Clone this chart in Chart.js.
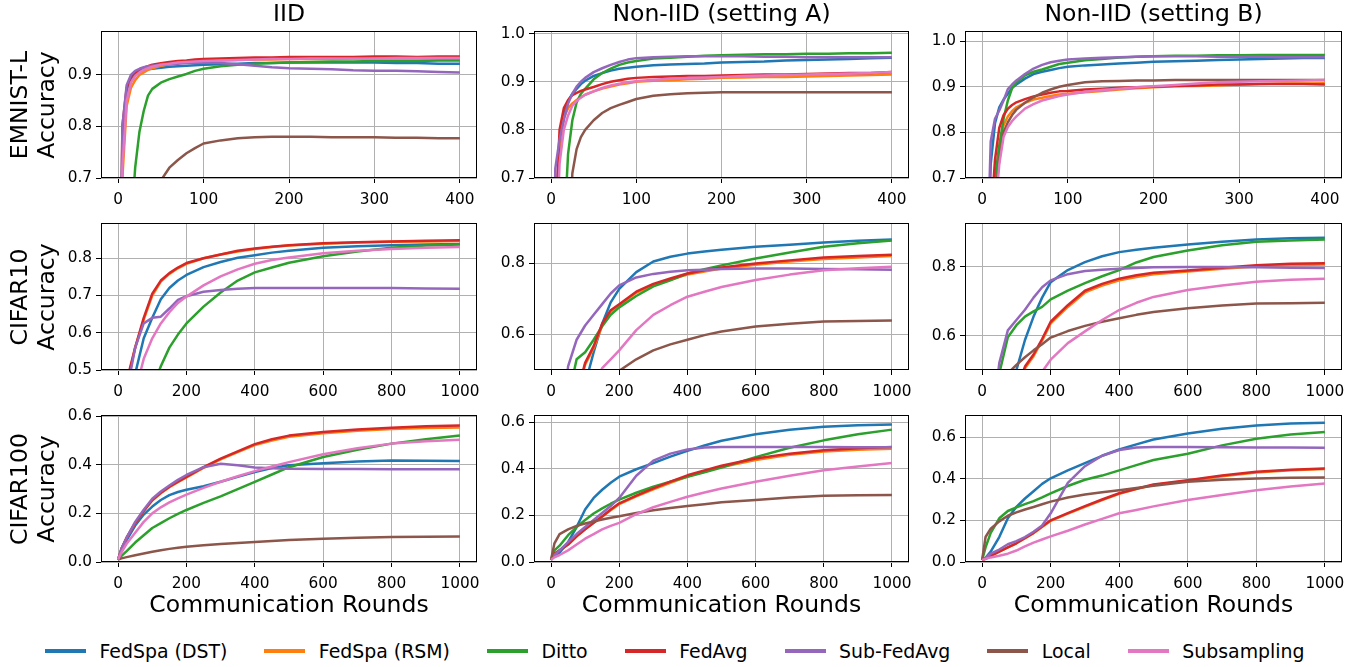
<!DOCTYPE html>
<html>
<head>
<meta charset="utf-8">
<script src="https://cdn.jsdelivr.net/npm/chart.js@4/dist/chart.umd.min.js"></script>
<style>
  html, body { margin: 0; padding: 0; background: #fff; }
  #fig { position: relative; width: 1364px; height: 667px; overflow: hidden; background: #fff;
         font-family: 'DejaVu Sans', sans-serif; color: #000; }
  .panel { position: absolute; left: 0; top: 0; }
  .panel canvas { position: absolute; display: block; }
  .coltitle, .xtitle { position: absolute; white-space: nowrap; transform: translate(-50%, -50%);
                       font-size: 23.5px; line-height: 1; }
  .rowlabel { position: absolute; white-space: nowrap; text-align: center; font-size: 23.5px;
              line-height: 27px; transform: translate(-50%, -50%) rotate(-90deg); }
  #legend { position: absolute; left: 45px; top: 651px; transform: translateY(-50%);
            display: flex; align-items: center; font-size: 18.9px; white-space: nowrap; }
  .lg-item { display: flex; align-items: center; margin-right: 37px; }
  .lg-item:last-child { margin-right: 0; }
  .lg-line { width: 41px; height: 3.5px; margin-right: 13.5px; }
</style>
</head>
<body>
<div id="fig"></div>
<script>
// ---------------- categories / labels ----------------
const seriesNames = ['FedSpa (DST)', 'FedSpa (RSM)', 'Ditto', 'FedAvg', 'Sub-FedAvg', 'Local', 'Subsampling'];
const seriesColors = ['#1f77b4', '#ff7f0e', '#2ca02c', '#d62728', '#9467bd', '#8c564b', '#e377c2'];
const columnTitles = ['IID', 'Non-IID (setting A)', 'Non-IID (setting B)'];
const rowDatasets = ['EMNIST-L', 'CIFAR10', 'CIFAR100'];
const rowMetric = 'Accuracy';
const xAxisTitle = 'Communication Rounds';

// ---------------- x values (communication rounds) ----------------
const roundsEmnist = [0,5,10,15,20,25,30,35,40,50,60,70,80,90,100,120,140,160,180,200,225,250,275,300,325,350,375,400];
const roundsCifar = [0,10,25,50,75,100,125,150,175,200,250,300,350,400,450,500,600,700,800,900,1000];

// ---------------- tick labels ----------------
const xTicksEmnist = [0, 100, 200, 300, 400];
const xTicksCifar = [0, 200, 400, 600, 800, 1000];
const yTicksEmnistIid = [0.7, 0.8, 0.9];
const yTicksEmnistNonIid = [0.7, 0.8, 0.9, 1.0];
const yTicksCifar10Iid = [0.5, 0.6, 0.7, 0.8];
const yTicksCifar10NonIid = [0.6, 0.8];
const yTicksCifar100 = [0.0, 0.2, 0.4, 0.6];

// ---------------- EMNIST-L, IID ----------------
const emnistIidDst = [0.04,0.78,0.87,0.893,0.902,0.906,0.909,0.911,0.912,0.914,0.916,0.917,0.918,0.919,0.92,0.921,0.922,0.923,0.923,0.924,0.924,0.924,0.924,0.924,0.923,0.923,0.922,0.922];
const emnistIidRsm = [0.04,0.7,0.84,0.875,0.89,0.9,0.905,0.91,0.913,0.918,0.921,0.923,0.925,0.926,0.927,0.928,0.929,0.93,0.93,0.931,0.931,0.931,0.932,0.932,0.932,0.932,0.932,0.932];
const emnistIidDitto = [0.04,0.2,0.4,0.6,0.72,0.79,0.83,0.86,0.873,0.885,0.892,0.897,0.902,0.908,0.912,0.917,0.92,0.922,0.923,0.924,0.925,0.926,0.926,0.927,0.927,0.927,0.928,0.928];
const emnistIidFedAvg = [0.04,0.8,0.875,0.897,0.905,0.91,0.914,0.917,0.92,0.923,0.925,0.927,0.928,0.93,0.931,0.932,0.933,0.934,0.934,0.935,0.935,0.935,0.935,0.936,0.936,0.935,0.936,0.936];
const emnistIidSubFedAvg = [0.04,0.8,0.88,0.9,0.908,0.912,0.915,0.917,0.918,0.92,0.921,0.922,0.923,0.923,0.924,0.923,0.921,0.918,0.915,0.913,0.912,0.911,0.909,0.908,0.908,0.907,0.906,0.905];
const emnistIidLocal = [0.04,0.1,0.2,0.3,0.4,0.48,0.55,0.6,0.64,0.695,0.72,0.735,0.748,0.758,0.767,0.773,0.777,0.779,0.78,0.78,0.78,0.779,0.779,0.779,0.778,0.778,0.777,0.777];
const emnistIidSubsampling = [0.04,0.72,0.85,0.885,0.898,0.905,0.91,0.913,0.916,0.92,0.922,0.924,0.925,0.926,0.927,0.928,0.929,0.93,0.931,0.931,0.932,0.932,0.932,0.932,0.933,0.933,0.933,0.933];

// ---------------- EMNIST-L, Non-IID A ----------------
const emnistADst = [0.05,0.6,0.76,0.83,0.86,0.875,0.885,0.895,0.902,0.912,0.918,0.923,0.927,0.929,0.931,0.934,0.936,0.937,0.938,0.94,0.941,0.942,0.944,0.945,0.946,0.947,0.949,0.95];
const emnistARsm = [0.05,0.55,0.77,0.825,0.845,0.855,0.862,0.868,0.873,0.88,0.886,0.89,0.894,0.897,0.9,0.902,0.903,0.905,0.906,0.908,0.909,0.91,0.91,0.911,0.912,0.913,0.914,0.915];
const emnistADitto = [0.05,0.2,0.4,0.58,0.75,0.82,0.857,0.875,0.885,0.905,0.918,0.927,0.935,0.94,0.943,0.948,0.95,0.952,0.954,0.955,0.956,0.957,0.957,0.958,0.958,0.959,0.959,0.96];
const emnistAFedAvg = [0.05,0.6,0.8,0.845,0.862,0.872,0.877,0.881,0.884,0.889,0.895,0.9,0.903,0.906,0.908,0.91,0.911,0.912,0.912,0.913,0.914,0.915,0.915,0.916,0.917,0.918,0.918,0.92];
const emnistASubFedAvg = [0.05,0.72,0.78,0.82,0.855,0.875,0.89,0.9,0.908,0.92,0.928,0.935,0.941,0.946,0.949,0.951,0.952,0.953,0.953,0.953,0.953,0.952,0.952,0.951,0.951,0.951,0.951,0.951];
const emnistALocal = [0.05,0.15,0.25,0.38,0.52,0.71,0.76,0.785,0.8,0.82,0.835,0.845,0.852,0.858,0.864,0.871,0.874,0.876,0.877,0.878,0.878,0.878,0.878,0.878,0.878,0.878,0.878,0.878];
const emnistASubsampling = [0.05,0.5,0.73,0.8,0.83,0.85,0.86,0.867,0.873,0.88,0.887,0.892,0.896,0.899,0.901,0.904,0.906,0.908,0.909,0.91,0.912,0.913,0.914,0.915,0.916,0.917,0.918,0.92];

// ---------------- EMNIST-L, Non-IID B ----------------
const emnistBDst = [0.05,0.4,0.73,0.82,0.855,0.872,0.885,0.898,0.905,0.918,0.928,0.933,0.937,0.941,0.944,0.947,0.949,0.951,0.953,0.955,0.956,0.957,0.959,0.96,0.961,0.962,0.963,0.963];
const emnistBRsm = [0.05,0.2,0.5,0.68,0.77,0.815,0.835,0.847,0.855,0.865,0.872,0.876,0.88,0.883,0.885,0.888,0.891,0.894,0.897,0.899,0.901,0.902,0.903,0.905,0.906,0.907,0.907,0.908];
const emnistBDitto = [0.05,0.2,0.45,0.7,0.77,0.83,0.87,0.897,0.91,0.925,0.933,0.938,0.944,0.95,0.953,0.958,0.961,0.964,0.966,0.967,0.968,0.968,0.969,0.969,0.97,0.97,0.97,0.97];
const emnistBFedAvg = [0.05,0.25,0.6,0.74,0.81,0.838,0.852,0.86,0.866,0.873,0.879,0.883,0.887,0.89,0.891,0.894,0.896,0.898,0.899,0.9,0.902,0.903,0.905,0.905,0.906,0.906,0.906,0.905];
const emnistBSubFedAvg = [0.05,0.45,0.78,0.83,0.848,0.87,0.895,0.905,0.914,0.928,0.94,0.948,0.954,0.957,0.96,0.962,0.964,0.965,0.966,0.967,0.967,0.967,0.966,0.966,0.966,0.965,0.965,0.965];
const emnistBLocal = [0.05,0.2,0.45,0.65,0.74,0.8,0.822,0.838,0.85,0.865,0.877,0.887,0.894,0.9,0.904,0.91,0.912,0.913,0.914,0.914,0.915,0.915,0.915,0.915,0.915,0.915,0.915,0.915];
const emnistBSubsampling = [0.05,0.15,0.4,0.62,0.73,0.79,0.812,0.825,0.835,0.852,0.862,0.87,0.875,0.88,0.883,0.889,0.893,0.896,0.899,0.901,0.904,0.907,0.91,0.911,0.912,0.913,0.914,0.915];

// ---------------- CIFAR10, IID ----------------
const cifar10IidDst = [0.1,0.25,0.38,0.49,0.585,0.64,0.69,0.72,0.74,0.755,0.776,0.79,0.801,0.808,0.815,0.82,0.828,0.832,0.835,0.837,0.838];
const cifar10IidRsm = [0.1,0.3,0.46,0.56,0.635,0.7,0.737,0.758,0.773,0.785,0.8,0.81,0.818,0.825,0.83,0.834,0.839,0.842,0.844,0.845,0.846];
const cifar10IidDitto = [0.1,0.14,0.2,0.3,0.38,0.45,0.51,0.56,0.595,0.625,0.67,0.708,0.74,0.762,0.775,0.788,0.805,0.818,0.828,0.834,0.837];
const cifar10IidFedAvg = [0.1,0.3,0.47,0.56,0.64,0.705,0.74,0.76,0.775,0.787,0.8,0.81,0.82,0.826,0.831,0.835,0.84,0.843,0.845,0.847,0.848];
const cifar10IidSubFedAvg = [0.1,0.25,0.44,0.56,0.625,0.64,0.643,0.665,0.688,0.698,0.71,0.715,0.718,0.72,0.72,0.72,0.72,0.72,0.72,0.719,0.718];
const cifar10IidLocal = [0.1,0.13,0.17,0.22,0.26,0.29,0.31,0.33,0.345,0.36,0.38,0.395,0.405,0.415,0.42,0.425,0.43,0.435,0.438,0.44,0.44];
const cifar10IidSubsampling = [0.1,0.2,0.32,0.44,0.53,0.585,0.625,0.655,0.68,0.697,0.727,0.751,0.77,0.785,0.795,0.802,0.813,0.82,0.825,0.828,0.83];

// ---------------- CIFAR10, Non-IID A ----------------
const cifar10ADst = [0.1,0.15,0.2,0.3,0.38,0.46,0.55,0.63,0.69,0.728,0.775,0.805,0.818,0.827,0.833,0.838,0.846,0.852,0.858,0.863,0.867];
const cifar10ARsm = [0.1,0.15,0.2,0.3,0.42,0.515,0.562,0.625,0.663,0.682,0.717,0.739,0.754,0.768,0.777,0.785,0.796,0.805,0.812,0.816,0.82];
const cifar10ADitto = [0.1,0.17,0.25,0.42,0.53,0.55,0.585,0.623,0.655,0.676,0.708,0.735,0.752,0.771,0.783,0.794,0.813,0.83,0.846,0.856,0.864];
const cifar10AFedAvg = [0.1,0.15,0.2,0.3,0.43,0.52,0.567,0.63,0.668,0.685,0.72,0.742,0.757,0.771,0.78,0.788,0.799,0.808,0.816,0.82,0.824];
const cifar10ASubFedAvg = [0.1,0.2,0.3,0.51,0.585,0.625,0.655,0.685,0.715,0.738,0.76,0.77,0.776,0.78,0.782,0.784,0.785,0.785,0.784,0.783,0.782];
const cifar10ALocal = [0.1,0.15,0.2,0.27,0.33,0.38,0.42,0.45,0.475,0.498,0.53,0.555,0.572,0.585,0.598,0.608,0.622,0.63,0.636,0.638,0.639];
const cifar10ASubsampling = [0.1,0.12,0.15,0.24,0.32,0.4,0.46,0.505,0.53,0.555,0.612,0.655,0.682,0.706,0.72,0.733,0.753,0.768,0.78,0.786,0.79];

// ---------------- CIFAR10, Non-IID B ----------------
const cifar10BDst = [0.1,0.15,0.2,0.3,0.4,0.5,0.587,0.655,0.71,0.755,0.79,0.813,0.83,0.842,0.849,0.855,0.864,0.872,0.879,0.882,0.884];
const cifar10BRsm = [0.1,0.15,0.2,0.28,0.36,0.44,0.505,0.54,0.585,0.635,0.683,0.725,0.745,0.76,0.77,0.778,0.786,0.794,0.8,0.804,0.806];
const cifar10BDitto = [0.1,0.2,0.3,0.49,0.595,0.63,0.655,0.67,0.683,0.705,0.73,0.752,0.772,0.79,0.812,0.828,0.847,0.862,0.872,0.876,0.879];
const cifar10BFedAvg = [0.1,0.15,0.2,0.28,0.36,0.44,0.51,0.545,0.59,0.64,0.688,0.73,0.75,0.765,0.775,0.782,0.789,0.797,0.804,0.808,0.81];
const cifar10BSubFedAvg = [0.1,0.2,0.3,0.52,0.615,0.645,0.675,0.71,0.74,0.76,0.778,0.787,0.791,0.794,0.796,0.798,0.799,0.799,0.798,0.797,0.796];
const cifar10BLocal = [0.1,0.2,0.3,0.42,0.49,0.515,0.537,0.557,0.575,0.594,0.613,0.628,0.64,0.65,0.66,0.668,0.679,0.687,0.693,0.694,0.695];
const cifar10BSubsampling = [0.1,0.12,0.15,0.22,0.29,0.35,0.4,0.45,0.495,0.53,0.578,0.612,0.645,0.674,0.695,0.712,0.732,0.745,0.756,0.762,0.765];

// ---------------- CIFAR100, IID ----------------
const cifar100IidDst = [0.01,0.05,0.09,0.15,0.195,0.228,0.255,0.275,0.288,0.297,0.312,0.33,0.35,0.37,0.387,0.398,0.406,0.413,0.418,0.417,0.415];
const cifar100IidRsm = [0.01,0.055,0.1,0.16,0.21,0.253,0.283,0.308,0.328,0.348,0.387,0.422,0.452,0.481,0.5,0.515,0.53,0.54,0.547,0.551,0.553];
const cifar100IidDitto = [0.01,0.025,0.045,0.08,0.11,0.14,0.16,0.18,0.198,0.214,0.243,0.27,0.3,0.33,0.36,0.39,0.432,0.462,0.487,0.505,0.52];
const cifar100IidFedAvg = [0.01,0.055,0.1,0.16,0.21,0.255,0.285,0.31,0.33,0.35,0.39,0.425,0.455,0.485,0.505,0.52,0.535,0.545,0.552,0.558,0.562];
const cifar100IidSubFedAvg = [0.01,0.055,0.1,0.165,0.215,0.26,0.29,0.315,0.338,0.358,0.39,0.404,0.398,0.389,0.386,0.384,0.383,0.383,0.382,0.382,0.382];
const cifar100IidLocal = [0.01,0.015,0.02,0.028,0.035,0.042,0.048,0.054,0.059,0.063,0.069,0.074,0.078,0.082,0.086,0.09,0.096,0.1,0.103,0.104,0.105];
const cifar100IidSubsampling = [0.01,0.04,0.075,0.12,0.165,0.2,0.225,0.245,0.262,0.277,0.305,0.33,0.353,0.374,0.393,0.411,0.443,0.468,0.487,0.497,0.503];

// ---------------- CIFAR100, Non-IID A ----------------
const cifar100ADst = [0.01,0.025,0.04,0.085,0.15,0.225,0.275,0.31,0.34,0.366,0.398,0.424,0.452,0.477,0.5,0.52,0.548,0.567,0.58,0.587,0.59];
const cifar100ARsm = [0.01,0.035,0.05,0.075,0.11,0.14,0.168,0.195,0.222,0.248,0.282,0.312,0.34,0.367,0.388,0.408,0.438,0.46,0.474,0.482,0.486];
const cifar100ADitto = [0.01,0.05,0.07,0.115,0.15,0.18,0.208,0.23,0.25,0.268,0.297,0.323,0.345,0.366,0.385,0.405,0.45,0.49,0.522,0.548,0.568];
const cifar100AFedAvg = [0.01,0.035,0.05,0.075,0.11,0.14,0.168,0.195,0.225,0.252,0.285,0.316,0.345,0.372,0.393,0.413,0.444,0.465,0.48,0.488,0.494];
const cifar100ASubFedAvg = [0.01,0.03,0.05,0.085,0.12,0.15,0.18,0.21,0.24,0.275,0.37,0.435,0.465,0.483,0.491,0.493,0.493,0.493,0.493,0.492,0.492];
const cifar100ALocal = [0.01,0.08,0.12,0.14,0.155,0.165,0.174,0.182,0.19,0.196,0.21,0.222,0.232,0.24,0.248,0.256,0.266,0.277,0.284,0.286,0.287];
const cifar100ASubsampling = [0.01,0.02,0.03,0.05,0.075,0.1,0.12,0.14,0.155,0.168,0.205,0.235,0.258,0.28,0.298,0.315,0.344,0.37,0.394,0.41,0.425];

// ---------------- CIFAR100, Non-IID B ----------------
const cifar100BDst = [0.01,0.02,0.05,0.12,0.21,0.265,0.305,0.34,0.375,0.402,0.44,0.475,0.51,0.54,0.565,0.588,0.617,0.64,0.656,0.665,0.669];
const cifar100BRsm = [0.01,0.015,0.03,0.05,0.07,0.09,0.113,0.138,0.168,0.197,0.232,0.265,0.297,0.327,0.35,0.37,0.39,0.412,0.43,0.44,0.446];
const cifar100BDitto = [0.01,0.07,0.14,0.21,0.245,0.262,0.278,0.292,0.31,0.33,0.365,0.395,0.415,0.44,0.465,0.49,0.52,0.56,0.592,0.612,0.624];
const cifar100BFedAvg = [0.01,0.015,0.03,0.05,0.07,0.09,0.115,0.14,0.17,0.2,0.235,0.268,0.3,0.33,0.352,0.372,0.393,0.415,0.433,0.443,0.449];
const cifar100BSubFedAvg = [0.01,0.02,0.04,0.06,0.085,0.1,0.12,0.145,0.175,0.234,0.38,0.46,0.51,0.538,0.55,0.552,0.552,0.551,0.55,0.55,0.549];
const cifar100BLocal = [0.01,0.12,0.16,0.195,0.222,0.238,0.252,0.264,0.277,0.29,0.31,0.324,0.335,0.345,0.355,0.366,0.385,0.395,0.401,0.404,0.406];
const cifar100BSubsampling = [0.01,0.015,0.022,0.03,0.04,0.055,0.075,0.093,0.108,0.123,0.15,0.18,0.207,0.234,0.25,0.267,0.298,0.322,0.345,0.362,0.377];

// ---------------- layout (pixel boxes of each plot area) ----------------
const colLeft = [101, 534, 965];
const colRight = [477, 909, 1342];
const rowTop = [31, 223, 415];
const rowBottom = [178, 370, 562];

const panels = [
  { r: 0, c: 0, x: roundsEmnist, xMin: -20, xMax: 420, xTicks: xTicksEmnist, yMin: 0.7, yMax: 0.985, yTicks: yTicksEmnistIid,
    s: [emnistIidDst, emnistIidRsm, emnistIidDitto, emnistIidFedAvg, emnistIidSubFedAvg, emnistIidLocal, emnistIidSubsampling] },
  { r: 0, c: 1, x: roundsEmnist, xMin: -20, xMax: 420, xTicks: xTicksEmnist, yMin: 0.7, yMax: 1.005, yTicks: yTicksEmnistNonIid,
    s: [emnistADst, emnistARsm, emnistADitto, emnistAFedAvg, emnistASubFedAvg, emnistALocal, emnistASubsampling] },
  { r: 0, c: 2, x: roundsEmnist, xMin: -20, xMax: 420, xTicks: xTicksEmnist, yMin: 0.7, yMax: 1.022, yTicks: yTicksEmnistNonIid,
    s: [emnistBDst, emnistBRsm, emnistBDitto, emnistBFedAvg, emnistBSubFedAvg, emnistBLocal, emnistBSubsampling] },
  { r: 1, c: 0, x: roundsCifar, xMin: -50, xMax: 1050, xTicks: xTicksCifar, yMin: 0.5, yMax: 0.894, yTicks: yTicksCifar10Iid,
    s: [cifar10IidDst, cifar10IidRsm, cifar10IidDitto, cifar10IidFedAvg, cifar10IidSubFedAvg, cifar10IidLocal, cifar10IidSubsampling] },
  { r: 1, c: 1, x: roundsCifar, xMin: -50, xMax: 1050, xTicks: xTicksCifar, yMin: 0.5, yMax: 0.9125, yTicks: yTicksCifar10NonIid,
    s: [cifar10ADst, cifar10ARsm, cifar10ADitto, cifar10AFedAvg, cifar10ASubFedAvg, cifar10ALocal, cifar10ASubsampling] },
  { r: 1, c: 2, x: roundsCifar, xMin: -50, xMax: 1050, xTicks: xTicksCifar, yMin: 0.5, yMax: 0.926, yTicks: yTicksCifar10NonIid,
    s: [cifar10BDst, cifar10BRsm, cifar10BDitto, cifar10BFedAvg, cifar10BSubFedAvg, cifar10BLocal, cifar10BSubsampling] },
  { r: 2, c: 0, x: roundsCifar, xMin: -50, xMax: 1050, xTicks: xTicksCifar, yMin: 0.0, yMax: 0.604, yTicks: yTicksCifar100,
    s: [cifar100IidDst, cifar100IidRsm, cifar100IidDitto, cifar100IidFedAvg, cifar100IidSubFedAvg, cifar100IidLocal, cifar100IidSubsampling] },
  { r: 2, c: 1, x: roundsCifar, xMin: -50, xMax: 1050, xTicks: xTicksCifar, yMin: 0.0, yMax: 0.63, yTicks: yTicksCifar100,
    s: [cifar100ADst, cifar100ARsm, cifar100ADitto, cifar100AFedAvg, cifar100ASubFedAvg, cifar100ALocal, cifar100ASubsampling] },
  { r: 2, c: 2, x: roundsCifar, xMin: -50, xMax: 1050, xTicks: xTicksCifar, yMin: 0.0, yMax: 0.705, yTicks: yTicksCifar100,
    s: [cifar100BDst, cifar100BRsm, cifar100BDitto, cifar100BFedAvg, cifar100BSubFedAvg, cifar100BLocal, cifar100BSubsampling] },
];

const FONT_FAMILY = "'DejaVu Sans', sans-serif";
const TICK_FONT = { family: FONT_FAMILY, size: 15.3 };
const Y_AXIS_W = 48, X_AXIS_H = 30, PAD_T = 10, PAD_R = 16;
const LINE_W = 2.5;

const fig = document.getElementById('fig');

const framePlugin = {
  id: 'frame',
  afterDatasetsDraw(chart) {
    const { ctx, chartArea: a } = chart;
    ctx.save();
    ctx.strokeStyle = '#000';
    ctx.lineWidth = 1;
    ctx.strokeRect(Math.round(a.left) + 0.5, Math.round(a.top) + 0.5,
                   Math.round(a.right) - Math.round(a.left) - 1, Math.round(a.bottom) - Math.round(a.top) - 1);
    ctx.restore();
  }
};

function makePanel(p) {
  const box = { left: colLeft[p.c], top: rowTop[p.r], w: colRight[p.c] - colLeft[p.c], h: rowBottom[p.r] - rowTop[p.r] };
  const holder = document.createElement('div');
  holder.className = 'panel';
  fig.appendChild(holder);
  const canvas = document.createElement('canvas');
  const W0 = box.w + Y_AXIS_W + PAD_R, H0 = box.h + PAD_T + X_AXIS_H;
  canvas.width = W0; canvas.height = H0;
  canvas.style.width = W0 + 'px'; canvas.style.height = H0 + 'px';
  holder.appendChild(canvas);

  const datasets = seriesNames.map((name, i) => ({
    label: name,
    data: p.x.map((xv, j) => ({ x: xv, y: p.s[i][j] })),
    borderColor: seriesColors[i],
    backgroundColor: seriesColors[i],
    borderWidth: LINE_W,
    pointRadius: 0,
    pointHoverRadius: 0,
    tension: 0,
    fill: false,
    order: seriesNames.length - i,
    clip: 0,
    borderJoinStyle: 'round',
    borderCapStyle: 'butt'
  }));

  const chart = new Chart(canvas, {
    type: 'line',
    data: { datasets },
    options: {
      responsive: false,
      maintainAspectRatio: false,
      animation: false,
      devicePixelRatio: 1,
      layout: { padding: { left: 0, top: PAD_T, right: PAD_R, bottom: 0 } },
      plugins: { legend: { display: false }, tooltip: { enabled: false }, title: { display: false } },
      events: [],
      scales: {
        x: {
          type: 'linear', min: p.xMin, max: p.xMax,
          afterBuildTicks: s => { s.ticks = p.xTicks.map(v => ({ value: v })); },
          afterFit: s => { s.height = X_AXIS_H; },
          ticks: { autoSkip: false, maxRotation: 0, font: TICK_FONT, color: '#000', padding: 8,
                   callback: v => String(v) },
          grid: { color: '#b0b0b0', lineWidth: 1, drawTicks: true, tickLength: 5, tickColor: '#000', tickWidth: 1 },
          border: { display: false }
        },
        y: {
          type: 'linear', min: p.yMin, max: p.yMax,
          afterBuildTicks: s => { s.ticks = p.yTicks.map(v => ({ value: v })); },
          afterFit: s => { s.width = Y_AXIS_W; },
          ticks: { autoSkip: false, font: TICK_FONT, color: '#000', padding: 4,
                   callback: v => Number(v).toFixed(1) },
          grid: { color: '#b0b0b0', lineWidth: 1, drawTicks: true, tickLength: 5, tickColor: '#000', tickWidth: 1 },
          border: { display: false }
        }
      }
    },
    plugins: [framePlugin]
  });

  // fit the library's chart area onto the target box
  let a = chart.chartArea;
  const dw = box.w - (a.right - a.left), dh = box.h - (a.bottom - a.top);
  if (Math.abs(dw) > 0.5 || Math.abs(dh) > 0.5) {
    const W1 = Math.round(W0 + dw), H1 = Math.round(H0 + dh);
    canvas.style.width = W1 + 'px'; canvas.style.height = H1 + 'px';
    chart.resize(W1, H1);
    a = chart.chartArea;
  }
  canvas.style.left = (box.left - a.left) + 'px';
  canvas.style.top = (box.top - a.top) + 'px';
}

panels.forEach(makePanel);

// column titles
columnTitles.forEach((t, c) => {
  const d = document.createElement('div');
  d.className = 'coltitle';
  d.textContent = t;
  d.style.left = ((colLeft[c] + colRight[c]) / 2) + 'px';
  d.style.top = '14px';
  fig.appendChild(d);
});

// x axis titles under the bottom row
[0, 1, 2].forEach(c => {
  const d = document.createElement('div');
  d.className = 'xtitle';
  d.textContent = xAxisTitle;
  d.style.left = ((colLeft[c] + colRight[c]) / 2) + 'px';
  d.style.top = '605px';
  fig.appendChild(d);
});

// row labels (two lines, rotated)
rowDatasets.forEach((name, r) => {
  const d = document.createElement('div');
  d.className = 'rowlabel';
  d.appendChild(document.createTextNode(name));
  d.appendChild(document.createElement('br'));
  d.appendChild(document.createTextNode(rowMetric));
  d.style.left = '33px';
  d.style.top = ((rowTop[r] + rowBottom[r]) / 2) + 'px';
  fig.appendChild(d);
});

// legend
const legend = document.createElement('div');
legend.id = 'legend';
seriesNames.forEach((name, i) => {
  const item = document.createElement('div');
  item.className = 'lg-item';
  const line = document.createElement('div');
  line.className = 'lg-line';
  line.style.background = seriesColors[i];
  const txt = document.createElement('span');
  txt.textContent = name;
  item.appendChild(line);
  item.appendChild(txt);
  legend.appendChild(item);
});
fig.appendChild(legend);
</script>
</body>
</html>
